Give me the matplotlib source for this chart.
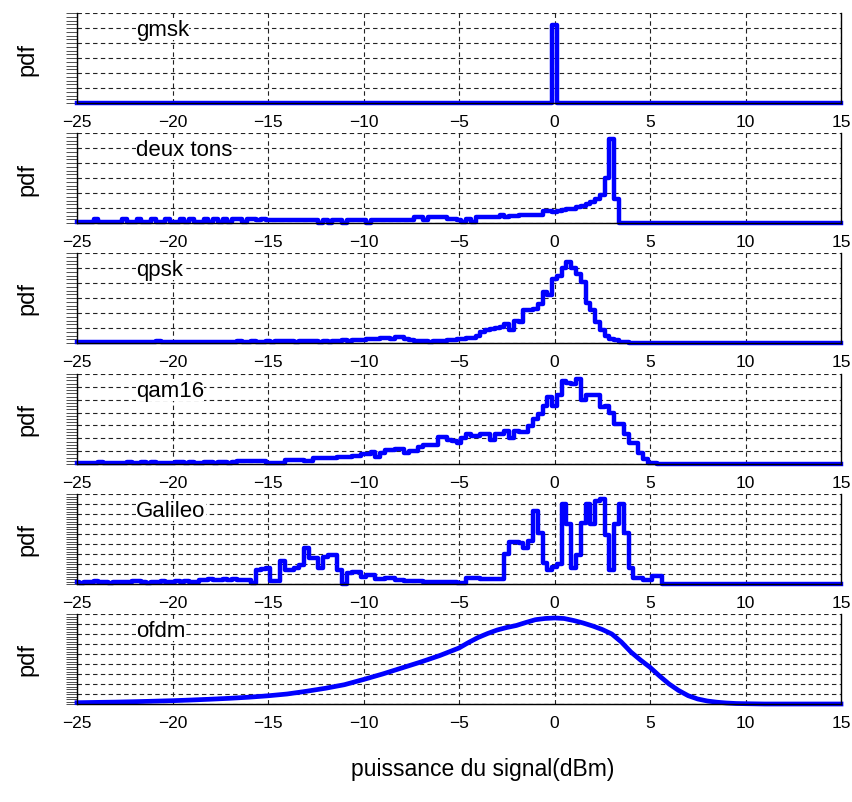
import numpy as np
import matplotlib
matplotlib.use("Agg")
import matplotlib.pyplot as plt
from matplotlib.ticker import MultipleLocator, AutoMinorLocator

plt.rcParams["font.family"] = ["Liberation Sans", "DejaVu Sans"]

# histogram bin centres (dBm), 0.25 dB bins
bin_centres = np.arange(-25, 15.001, 0.25)

panel_names = ["gmsk", "deux tons", "qpsk", "qam16", "Galileo", "ofdm"]
panel_ymax = [6, 6, 6, 7, 9, 9]
x_ticks = [-25, -20, -15, -10, -5, 0, 5, 10, 15]

# each histogram: first bin centre + values (in grid units), zero elsewhere
gmsk_start = 0.0
gmsk = [5.2]

deux_tons_start = -25.0
deux_tons = [
    0.1, 0.1, 0.1, 0.1,  0.3, 0.1, 0.1, 0.1,  0.1, 0.1, 0.3, 0.1,
    0.1, 0.3, 0.1, 0.1,  0.3, 0.1, 0.1, 0.3,  0.1, 0.1, 0.3, 0.1,
    0.3, 0.1, 0.1, 0.3,  0.1, 0.3, 0.1, 0.3,  0.1, 0.3, 0.3, 0.1,
    0.3, 0.3, 0.2, 0.3,  0.2, 0.2, 0.2, 0.2,  0.2, 0.2, 0.2, 0.2,
    0.2, 0.2, 0.2, 0.0,  0.2, 0.0, 0.2, 0.2,  0.0, 0.2, 0.2, 0.2,
    0.2, 0.0, 0.2, 0.2,  0.2, 0.2, 0.2, 0.2,  0.2, 0.2, 0.2, 0.4,
    0.4, 0.2, 0.4, 0.4,  0.4, 0.4, 0.25, 0.25,  0.2, 0.1, 0.25, 0.1,
    0.4, 0.4, 0.4, 0.4,  0.4, 0.55, 0.4, 0.5,  0.5, 0.55, 0.55, 0.55,
    0.55, 0.55, 0.8, 0.8,  0.75, 0.8, 0.9, 0.95,  0.95, 1.05, 1.15, 1.25,
    1.4, 1.6, 1.9, 3.0,  5.6, 1.6,
]

qpsk_start = -25.0
qpsk = [
    0.05, 0.05, 0.05, 0.05,  0.05, 0.05, 0.05, 0.05,  0.05, 0.05, 0.05, 0.05,
    0.05, 0.05, 0.05, 0.05,  0.05, 0.15, 0.1, 0.05,  0.1, 0.05, 0.1, 0.1,
    0.05, 0.1, 0.1, 0.05,  0.1, 0.1, 0.05, 0.1,  0.1, 0.1, 0.15, 0.1,
    0.1, 0.15, 0.1, 0.1,  0.15, 0.1, 0.15, 0.15,  0.15, 0.15, 0.1, 0.15,
    0.15, 0.15, 0.15, 0.1,  0.15, 0.1, 0.15, 0.15,  0.2, 0.15, 0.2, 0.2,
    0.2, 0.25, 0.25, 0.3,  0.35, 0.35, 0.3, 0.4,  0.4, 0.25, 0.2, 0.15,
    0.15, 0.15, 0.1, 0.15,  0.15, 0.15, 0.2, 0.2,  0.3, 0.3, 0.35, 0.35,
    0.5, 0.75, 0.9, 0.95,  1.0, 1.1, 1.3, 0.9,  1.5, 1.4, 2.2, 2.2,
    2.3, 2.6, 3.4, 3.2,  4.3, 4.5, 5.0, 5.4,  5.0, 4.6, 4.1, 2.7,
    2.2, 1.4, 0.85, 0.45,  0.25, 0.2, 0.1, 0.05,
]

qam16_start = -25.0
qam16 = [
    0.1, 0.1, 0.1, 0.1,  0.1, 0.15, 0.1, 0.1,  0.1, 0.1, 0.1, 0.15,
    0.1, 0.1, 0.15, 0.1,  0.15, 0.1, 0.1, 0.1,  0.1, 0.15, 0.15, 0.1,
    0.15, 0.1, 0.1, 0.15,  0.15, 0.1, 0.15, 0.15,  0.1, 0.15, 0.25, 0.2,
    0.23, 0.23, 0.23, 0.23,  0.1, 0.1, 0.1, 0.1,  0.28, 0.28, 0.28, 0.28,
    0.2, 0.2, 0.46, 0.46,  0.46, 0.46, 0.46, 0.55,  0.55, 0.55, 0.62, 0.62,
    0.75, 0.75, 0.95, 0.55,  0.88, 1.06, 1.06, 1.15,  1.2, 0.88, 1.05, 1.05,
    1.3, 1.45, 1.45, 1.45,  2.1, 2.1, 1.9, 1.8,  1.6, 2.05, 2.3, 2.2,
    2.2, 2.35, 2.35, 1.9,  2.3, 2.3, 2.6, 2.0,  2.55, 2.5, 2.5, 2.95,
    3.5, 3.9, 4.5, 5.2,  4.5, 5.4, 6.45, 6.3,  6.25, 6.6, 5.0, 5.4,
    5.4, 5.4, 4.4, 4.5,  4.0, 3.1, 3.1, 2.3,  1.65, 1.65, 0.88, 0.37,
    0.1, 0.05,
]

galileo_start = -25.0
galileo = [
    0.2, 0.1, 0.2, 0.2,  0.3, 0.2, 0.2, 0.1,  0.2, 0.2, 0.2, 0.2,
    0.3, 0.3, 0.2, 0.1,  0.2, 0.2, 0.3, 0.2,  0.2, 0.3, 0.2, 0.3,
    0.2, 0.2, 0.4, 0.4,  0.5, 0.4, 0.4, 0.5,  0.4, 0.5, 0.4, 0.4,
    0.37, 0.13, 1.37, 1.5,  1.57, 0.3, 0.3, 2.3,  1.37, 1.37, 1.57, 1.9,
    3.6, 2.63, 2.63, 1.63,  2.7, 2.9, 2.9, 1.37,  0.0, 1.13, 1.2, 1.2,
    0.7, 0.9, 0.9, 0.47,  0.47, 0.57, 0.57, 0.37,  0.37, 0.3, 0.3, 0.3,
    0.3, 0.23, 0.23, 0.23,  0.23, 0.23, 0.23, 0.23,  0.13, 0.13, 0.57, 0.57,
    0.57, 0.47, 0.47, 0.47,  0.47, 0.47, 2.97, 4.23,  4.23, 4.13, 3.57, 4.3,
    7.3, 5.13, 2.13, 1.37,  1.7, 1.97, 8.0, 6.0,  1.57, 2.87, 6.13, 8.0,
    6.0, 8.3, 8.5, 4.87,  1.43, 5.97, 8.0, 5.13,  1.63, 0.57, 0.57, 0.37,
    0.37, 0.8, 0.8,
]

# ofdm is a smooth curve, read as points
ofdm_x = [-25, -24, -23, -22, -21, -20, -19, -18, -17, -16, -15, -14, -13,
          -12, -11, -10, -9, -8, -7, -6, -5, -4.5, -4, -3.5, -3, -2.5, -2,
          -1.5, -1, -0.5, 0, 0.5, 1, 1.5, 2, 2.5, 3, 3.5, 4, 4.5, 5, 5.5,
          6, 6.5, 7, 7.5, 8, 8.5, 9, 9.5, 10, 11, 12, 13, 14, 15]
ofdm_y = [0.13, 0.16, 0.19, 0.23, 0.28, 0.33, 0.4, 0.48, 0.57, 0.68, 0.82,
          1.0, 1.27, 1.57, 1.93, 2.45, 3.0, 3.6, 4.2, 4.85, 5.6, 6.15, 6.65,
          7.05, 7.4, 7.65, 7.85, 8.15, 8.43, 8.55, 8.6, 8.55, 8.35, 8.1,
          7.8, 7.45, 7.0, 6.2, 5.2, 4.4, 3.67, 2.8, 2.0, 1.35, 0.83, 0.5,
          0.3, 0.18, 0.1, 0.05, 0.03, 0.0, 0.0, 0.0, 0.0, 0.0]


def pad_bins(start, values):
    y = np.zeros(len(bin_centres))
    i0 = int(round((start - bin_centres[0]) / 0.25))
    y[i0:i0 + len(values)] = values
    return y


histograms = [
    pad_bins(gmsk_start, gmsk),
    pad_bins(deux_tons_start, deux_tons),
    pad_bins(qpsk_start, qpsk),
    pad_bins(qam16_start, qam16),
    pad_bins(galileo_start, galileo),
]

fig = plt.figure(figsize=(8.53, 8.03), dpi=100)

left, width, height = 77 / 853, 764 / 853, 90 / 803
panel_bottoms_px = [104, 224, 344, 465, 585, 705]

for i, name in enumerate(panel_names):
    ax = fig.add_axes([left, 1 - panel_bottoms_px[i] / 803, width, height])
    if i < 5:
        ax.plot(bin_centres, histograms[i], drawstyle="steps-mid",
                color="#0000ff", linewidth=3.2, clip_on=False, zorder=2)
    else:
        ax.plot(ofdm_x, ofdm_y, color="#0000ff", linewidth=3.4,
                clip_on=False, zorder=2)

    ax.set_xlim(-25, 15)
    ax.set_ylim(0, panel_ymax[i])
    ax.set_xticks(x_ticks)
    ax.set_xticklabels([str(t).replace("-", "\u2212") for t in x_ticks])
    ax.yaxis.set_major_locator(MultipleLocator(1))
    ax.yaxis.set_minor_locator(AutoMinorLocator(4))
    ax.set_yticklabels([])
    ax.tick_params(axis="x", length=0, pad=8, labelsize=12.5)
    ax.tick_params(axis="y", which="both", direction="out", length=8,
                   width=0.6, color="#333333")

    ax.set_axisbelow(True)
    ax.grid(True, which="major", color="#222222", linestyle=(0, (4, 3)),
            linewidth=0.8)
    ax.spines["top"].set_visible(False)
    for side in ["left", "right", "bottom"]:
        ax.spines[side].set_linewidth(1.0)
        ax.spines[side].set_zorder(3)

    ax.set_ylabel("pdf", fontsize=17)
    ax.yaxis.set_label_coords(-0.051, 0.5)
    ax.text(-21.9, 0.82, name, transform=ax.get_xaxis_transform(),
            fontsize=16, va="center", ha="left",
            bbox=dict(facecolor="white", edgecolor="none", pad=0))

fig.text(483 / 853, 1 - 770 / 803, "puissance du signal(dBm)",
         fontsize=16.5, ha="center", va="center")

fig.savefig("out.png", dpi=100)
